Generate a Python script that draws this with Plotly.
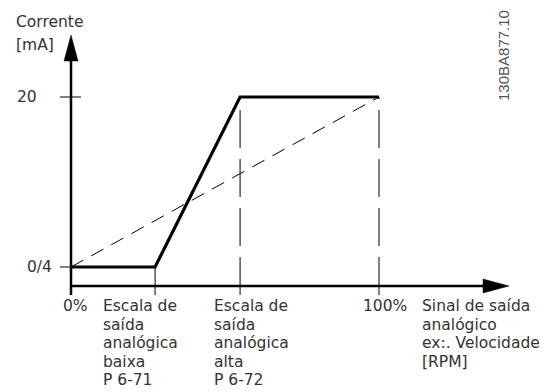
import plotly.graph_objects as go

# ---- data (x in % of output signal, y normalized: 0 -> 0/4 mA, 1 -> 20 mA)
x_low_pct = 27.3
x_high_pct = 54.9
curve_x = [0, x_low_pct, x_high_pct, 100]
curve_y = [0, 0, 1, 1]
linear_x = [0, 100]
linear_y = [0, 1]
y_tick_vals = [0, 1]
y_tick_text = ["0/4", "20"]
low_label = ["Escala de", "saída", "analógica", "baixa", "P 6-71"]
high_label = ["Escala de", "saída", "analógica", "alta", "P 6-72"]
x_axis_label = ["Sinal de saída", "analógico", "ex:. Velocidade", "[RPM]"]
y_axis_label = ["Corrente", "[mA]"]
code_text = "130BA877.10"

W, H = 547, 392
X0PX, XSCALE = 71, 3.08      # px of x=0, px per %
Y0PX, YSCALE = 267, 170      # px of y=0, px per unit


def px(x):
    return (x - X0PX) / XSCALE


def py(y):
    return (Y0PX - y) / YSCALE


TXT = "#333333"
FS = 15.5
FONT = dict(family="DejaVu Sans", size=FS, color=TXT)
LS = 18.6

fig = go.Figure()
fig.add_trace(go.Scatter(x=linear_x, y=linear_y, mode="lines",
                         line=dict(color="black", width=1, dash="14px,9px"),
                         hoverinfo="skip"))
fig.add_trace(go.Scatter(x=curve_x, y=curve_y, mode="lines",
                         line=dict(color="black", width=3.2),
                         hoverinfo="skip"))

shapes = []
# axes
shapes.append(dict(type="line", x0=0, x1=0, y0=py(295), y1=py(58),
                   line=dict(color="black", width=2.5)))
shapes.append(dict(type="line", x0=0, x1=px(486), y0=py(286), y1=py(286),
                   line=dict(color="black", width=2.5)))
# arrow heads
shapes.append(dict(type="path",
                   path=f"M {px(64)} {py(61)} L {px(71)} {py(35)} L {px(78)} {py(61)} Z",
                   fillcolor="black", line=dict(color="black", width=0.5)))
shapes.append(dict(type="path",
                   path=f"M {px(483)} {py(279)} L {px(509)} {py(286)} L {px(483)} {py(293)} Z",
                   fillcolor="black", line=dict(color="black", width=0.5)))
# y ticks
shapes.append(dict(type="line", x0=px(60), x1=px(81), y0=y_tick_vals[1], y1=y_tick_vals[1],
                   line=dict(color="black", width=1)))
shapes.append(dict(type="line", x0=px(60), x1=0, y0=y_tick_vals[0], y1=y_tick_vals[0],
                   line=dict(color="black", width=1)))
# x ticks / guides
shapes.append(dict(type="line", x0=x_low_pct, x1=x_low_pct, y0=0, y1=py(295),
                   line=dict(color="black", width=1)))
for xv in (x_high_pct, 100):
    shapes.append(dict(type="line", x0=xv, x1=xv, y0=py(295), y1=1,
                       line=dict(color="black", width=1, dash="38px,11px")))

ann = []


def text(x, y, s, xanchor="left", **kw):
    ann.append(dict(x=px(x), y=py(y), text=s, showarrow=False, xanchor=xanchor,
                    yanchor="middle", font=dict(FONT), **kw))


text(14, 22, y_axis_label[0])
text(14, 45, y_axis_label[1])
text(39, 97, y_tick_text[1], xanchor="right")
text(54, 267, y_tick_text[0], xanchor="right")
text(75, 306, "0%", xanchor="center")
text(409, 306, "100%", xanchor="right")
for i, s in enumerate(low_label):
    text(101, 306 + LS * i, s)
for i, s in enumerate(high_label):
    text(212, 306 + LS * i, s)
for i, s in enumerate(x_axis_label):
    text(420, 306 + LS * i, s)
ann.append(dict(x=px(503), y=py(56), text=code_text, showarrow=False, textangle=-90,
                xanchor="center", yanchor="middle",
                font=dict(family="Liberation Sans", size=15, color="#555555")))

fig.update_layout(
    width=W, height=H, margin=dict(l=0, r=0, t=0, b=0),
    paper_bgcolor="white", plot_bgcolor="white", showlegend=False,
    xaxis=dict(range=[px(0), px(W)], visible=False, fixedrange=True),
    yaxis=dict(range=[py(H), py(0)], visible=False, fixedrange=True),
    shapes=shapes, annotations=ann,
)
fig.write_html("out.html", config=dict(displayModeBar=False),
               post_script="document.body.style.margin='0';document.body.style.overflow='hidden';")
